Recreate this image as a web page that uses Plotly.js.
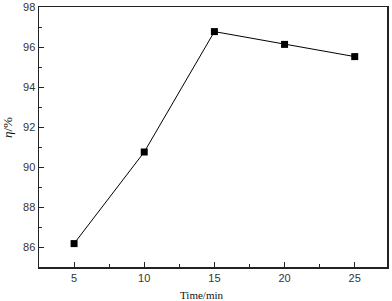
<!DOCTYPE html>
<html><head><meta charset="utf-8">
<script src="https://cdn.plot.ly/plotly-3.0.1.min.js"></script>
<style>body{margin:0;padding:0;background:#fff}#chart{width:392px;height:301px}</style>
</head><body><div id="chart"></div>
<script>
const timeMin = [5, 10, 15, 20, 25];
const eta = [86.17, 90.75, 96.77, 96.13, 95.52];
const xTicks = [5, 10, 15, 20, 25];
const yTicks = [86, 88, 90, 92, 94, 96, 98];
const xTitle = 'Time/min';
const yTitle = '<i>η</i>/%';

const trace = {
  x: timeMin, y: eta, type: 'scatter', mode: 'lines+markers',
  line: {color: '#000', width: 1},
  marker: {symbol: 'square', size: 7, color: '#000'},
  hoverinfo: 'none'
};
const axisCommon = {
  showline: true, mirror: true, linecolor: '#222', linewidth: 1.5,
  ticks: 'inside', ticklen: 5, tickwidth: 1, tickcolor: '#222',
  showgrid: false, zeroline: false,
  tickfont: {family: 'Liberation Sans, Arial, sans-serif', size: 11, color: '#333'}
};
const serif = 'Liberation Serif';
const layout = {
  width: 392, height: 301,
  margin: {l: 39, r: 5, t: 7, b: 34},
  paper_bgcolor: '#fff', plot_bgcolor: '#fff',
  showlegend: false,
  xaxis: Object.assign({}, axisCommon, {
    range: [2.5, 27.3], tickvals: xTicks, ticktext: xTicks.map(String),
    minor: {tickvals: [7.5, 12.5, 17.5, 22.5], ticks: 'inside', ticklen: 3, tickcolor: '#222', tickwidth: 1}
  }),
  yaxis: Object.assign({}, axisCommon, {
    range: [85, 98], tickvals: yTicks, ticktext: yTicks.map(String),
    minor: {tickvals: [87, 89, 91, 93, 95, 97], ticks: 'inside', ticklen: 3, tickcolor: '#222', tickwidth: 1}
  }),
  annotations: [
    {text: xTitle, xref: 'paper', yref: 'paper', x: (201 - 39) / 348, y: -(295 - 267) / 260,
     xanchor: 'center', yanchor: 'middle', showarrow: false,
     font: {family: serif, size: 11, color: '#111'}},
    {text: yTitle, xref: 'paper', yref: 'paper', x: -(39 - 7) / 348, y: (267 - 128) / 260,
     xanchor: 'center', yanchor: 'middle', showarrow: false, textangle: -90,
     font: {family: serif, size: 13, color: '#111'}}
  ]
};
Plotly.newPlot('chart', [trace], layout, {displayModeBar: false, staticPlot: true});
</script></body></html>
